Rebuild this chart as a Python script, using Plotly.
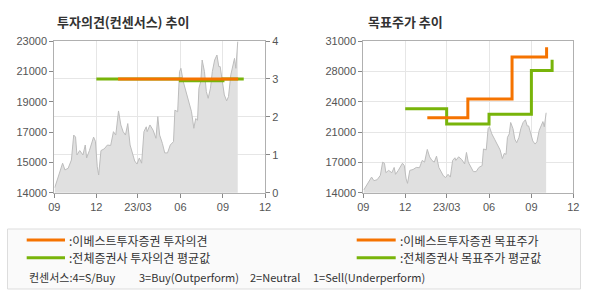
import plotly.graph_objects as go
import numpy as np

# ---------------- data ----------------
price_dates = [
    "2022-09-02", "2022-09-06", "2022-09-13", "2022-09-19", "2022-09-24", "2022-10-01",
    "2022-10-08", "2022-10-13", "2022-10-17", "2022-10-20", "2022-10-26", "2022-11-02",
    "2022-11-07", "2022-11-10", "2022-11-16", "2022-11-25", "2022-11-29", "2022-12-03",
    "2022-12-06", "2022-12-11", "2022-12-18", "2022-12-25", "2023-01-01", "2023-01-07",
    "2023-01-12", "2023-01-18", "2023-01-23", "2023-01-28", "2023-02-02", "2023-02-07",
    "2023-02-12", "2023-02-17", "2023-02-22", "2023-02-27", "2023-03-04", "2023-03-09",
    "2023-03-14", "2023-03-19", "2023-03-21", "2023-03-27", "2023-04-03", "2023-04-09",
    "2023-04-13", "2023-04-17", "2023-04-23", "2023-04-28", "2023-05-04", "2023-05-10",
    "2023-05-17", "2023-05-20", "2023-05-26", "2023-05-30", "2023-06-02", "2023-06-07",
    "2023-06-13", "2023-06-18", "2023-06-25", "2023-06-30", "2023-07-04", "2023-07-08",
    "2023-07-11", "2023-07-15", "2023-07-18", "2023-07-23", "2023-07-27", "2023-07-31",
    "2023-08-05", "2023-08-09", "2023-08-14", "2023-08-19", "2023-08-23", "2023-08-26",
    "2023-08-30", "2023-09-04", "2023-09-09", "2023-09-13", "2023-09-18", "2023-09-22",
    "2023-09-26", "2023-09-29", "2023-10-03",
]
prices = [
    14300, 14650, 15250, 15750, 15350, 15450,
    15940, 17420, 17300, 16240, 16500, 16240,
    16830, 16060, 16500, 17300, 17050, 15540,
    15050, 16500, 16600, 16830, 16800, 17620,
    17420, 18850, 18020, 17620, 17420, 18100,
    16830, 16360, 15880, 15700, 16060, 15750,
    17620, 17910, 17620, 18020, 17700, 17230,
    18510, 17420, 16920, 16360, 16360, 16830,
    17030, 18900, 18800, 21180, 21380, 20600,
    20000, 19450, 18800, 17820, 18400, 18300,
    20200, 20600, 21870, 21180, 20000, 19600,
    20200, 21180, 21870, 22170, 21480, 21480,
    20800, 19800, 19450, 19700, 20990, 21580,
    21970, 21380, 22960,
]

# opinion (consensus) chart
ebest_op_dates = ["2023-01-17", "2023-10-04"]
ebest_op = [3, 3]
avg_op_dates = ["2022-12-01", "2023-06-01", "2023-09-01", "2023-10-16"]
avg_op = [3, 2.95, 3, 3]

# target price chart
ebest_tp_dates = ["2023-01-18", "2023-04-16", "2023-07-21", "2023-10-04"]
ebest_tp = [22400, 24500, 29200, 30300]
avg_tp_dates = ["2022-12-01", "2023-03-01", "2023-06-01", "2023-09-01", "2023-10-16"]
avg_tp = [23400, 21700, 22800, 27700, 28900]

x_tick_dates = ["2022-09-01", "2022-12-01", "2023-03-01", "2023-06-01", "2023-09-01", "2023-12-01"]
x_tick_labels = ["09", "12", "23/03", "06", "09", "12"]
left_price_labels = ["14000", "15000", "17000", "19000", "21000", "23000"]
left_price_range = [14000, 23000]
right_price_labels = ["14000", "17000", "21000", "24000", "28000", "31000"]
right_price_range = [14000, 31000]
op_range = [0, 4]

title_left = "투자의견(컨센서스) 추이"
title_right = "목표주가 추이"
legend_rows = [
    ("이베스트투자증권 투자의견", "orange", 0), ("전체증권사 투자의견 평균값", "green", 0),
    ("이베스트투자증권 목표주가", "orange", 1), ("전체증권사 목표주가 평균값", "green", 1),
]
consensus_parts = ["컨센서스:4=S/Buy", "3=Buy(Outperform)", "2=Neutral", "1=Sell(Underperform)"]

# ---------------- style ----------------
W, H = 590, 300
ORANGE = "#f57300"
GREEN = "#78b40a"
AREA_FILL = "#e0e0e0"
AREA_LINE = "#bcbcbc"
GRID = "#e6e6e6"
AXIS = "#b0b0b0"
TICKC = "#888888"
TXT = "#555555"
KFONT = "Noto Sans CJK KR"
NFONT = "Liberation Sans"

def fx(px):
    return px / W

def fy(py):
    return 1 - py / H

LX0, LX1 = 54.3, 265.0
RX0, RX1 = 363.3, 573.3
PY0, PY1 = 41.0, 192.7

fig = go.Figure()

# left chart
fig.add_trace(go.Scatter(x=price_dates, y=prices, mode="lines", fill="tozeroy",
                         fillcolor=AREA_FILL, line=dict(color=AREA_LINE, width=1),
                         xaxis="x", yaxis="y", hoverinfo="skip"))
fig.add_trace(go.Scatter(x=avg_op_dates, y=avg_op, mode="lines", line_shape="hv",
                         line=dict(color=GREEN, width=3), xaxis="x", yaxis="y2"))
fig.add_trace(go.Scatter(x=ebest_op_dates, y=ebest_op, mode="lines", line_shape="hv",
                         line=dict(color=ORANGE, width=3), xaxis="x", yaxis="y2"))

# right chart
fig.add_trace(go.Scatter(x=price_dates, y=prices, mode="lines", fill="tozeroy",
                         fillcolor=AREA_FILL, line=dict(color=AREA_LINE, width=1),
                         xaxis="x2", yaxis="y3", hoverinfo="skip"))
fig.add_trace(go.Scatter(x=avg_tp_dates, y=avg_tp, mode="lines", line_shape="hv",
                         line=dict(color=GREEN, width=3), xaxis="x2", yaxis="y3"))
fig.add_trace(go.Scatter(x=ebest_tp_dates, y=ebest_tp, mode="lines", line_shape="hv",
                         line=dict(color=ORANGE, width=3), xaxis="x2", yaxis="y3"))

tickfont = dict(family=NFONT, size=11, color=TXT)
xcommon = dict(type="date", range=[x_tick_dates[0], x_tick_dates[-1]],
               tickvals=x_tick_dates, ticktext=x_tick_labels,
               showgrid=True, gridcolor=GRID, gridwidth=1,
               showline=True, linecolor=AXIS, linewidth=1, mirror=True,
               ticks="outside", ticklen=4, tickcolor=TICKC, tickfont=tickfont,
               automargin=False, zeroline=False, fixedrange=True)

left_vals = list(np.linspace(left_price_range[0], left_price_range[1], len(left_price_labels)))
right_vals = list(np.linspace(right_price_range[0], right_price_range[1], len(right_price_labels)))

fig.update_layout(
    width=W, height=H, margin=dict(l=0, r=0, t=0, b=0),
    paper_bgcolor="white", plot_bgcolor="white", showlegend=False,
    xaxis=dict(domain=[fx(LX0), fx(LX1)], anchor="y", **xcommon),
    xaxis2=dict(domain=[fx(RX0), fx(RX1)], anchor="y3", **xcommon),
    yaxis=dict(domain=[fy(PY1), fy(PY0)], anchor="x", range=left_price_range,
               tickvals=left_vals, ticktext=left_price_labels, showgrid=False,
               showline=True, linecolor=AXIS, ticks="outside", ticklen=4, tickcolor=TICKC,
               tickfont=tickfont, automargin=False, zeroline=False),
    yaxis2=dict(overlaying="y", side="right", anchor="x", range=op_range, dtick=1,
                showgrid=True, gridcolor=GRID, showline=True, linecolor=AXIS,
                ticks="outside", ticklen=4, tickcolor=TICKC, tickfont=tickfont,
                automargin=False, zeroline=False),
    yaxis3=dict(domain=[fy(PY1), fy(PY0)], anchor="x2", range=right_price_range,
                tickvals=right_vals, ticktext=right_price_labels, showgrid=True,
                gridcolor=GRID, showline=True, linecolor=AXIS, mirror=True,
                ticks="outside", ticklen=4, tickcolor=TICKC, tickfont=tickfont,
                automargin=False, zeroline=False),
)

annotations = []
shapes = []
annotations.append(dict(x=fx(55), y=fy(21), xref="paper", yref="paper", text="<b>" + title_left + "</b>",
                        showarrow=False, xanchor="left", yanchor="middle",
                        font=dict(family=KFONT, size=13, color="#333333")))
annotations.append(dict(x=fx(366), y=fy(21), xref="paper", yref="paper", text="<b>" + title_right + "</b>",
                        showarrow=False, xanchor="left", yanchor="middle",
                        font=dict(family=KFONT, size=13, color="#333333")))

# legend box
shapes.append(dict(type="rect", xref="paper", yref="paper", x0=fx(7.5), x1=fx(580.5),
                   y0=fy(289), y1=fy(229), line=dict(color="#dddddd", width=1), fillcolor="#fafafa",
                   layer="below"))
col_line_x = [(26.7, 65.0), (356.7, 395.7)]
row_y = [240, 257.7]
counts = [0, 0]
for label, col, c in legend_rows:
    r = counts[c]
    counts[c] += 1
    x0, x1 = col_line_x[c]
    yy = row_y[r]
    shapes.append(dict(type="line", xref="paper", yref="paper", x0=fx(x0), x1=fx(x1),
                       y0=fy(yy), y1=fy(yy), line=dict(color=ORANGE if col == "orange" else GREEN, width=3)))
    annotations.append(dict(x=fx(x1 + 2), y=fy(yy), xref="paper", yref="paper", text=":" + label,
                            showarrow=False, xanchor="left", yanchor="middle",
                            font=dict(family=KFONT, size=12, color="#333333")))
cons_x = [26.7, 137.0, 248.3, 311.3]
for t, xx in zip(consensus_parts, cons_x):
    annotations.append(dict(x=fx(xx), y=fy(276.7), xref="paper", yref="paper", text=t,
                            showarrow=False, xanchor="left", yanchor="middle",
                            font=dict(family=KFONT, size=11, color="#333333")))

fig.update_layout(annotations=annotations, shapes=shapes)
fig.write_html("out.html")
